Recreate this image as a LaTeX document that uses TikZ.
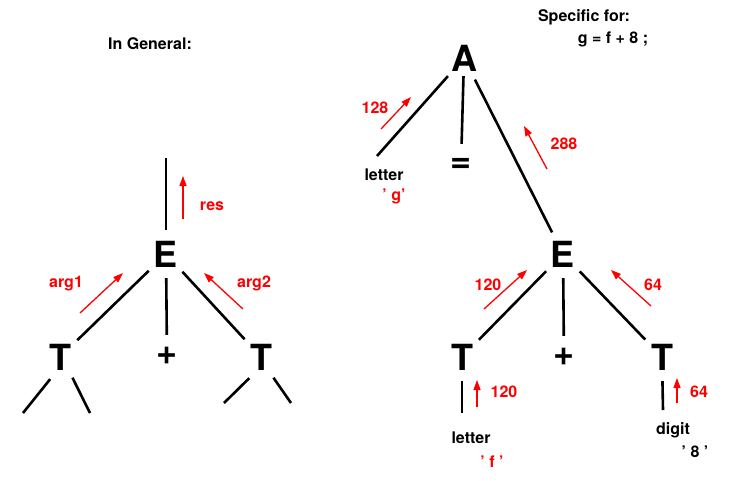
\documentclass[tikz,border=0pt]{standalone}
\usepackage{fontspec}
\setmainfont{TeX Gyre Heros}
\usepackage{tikz}
\usetikzlibrary{arrows.meta}

\tikzset{
	sym/.style={circle, inner sep=0pt, minimum size=48pt, font=\fontsize{36}{36}\selectfont\bfseries},
	op/.style={sym, minimum size=42pt},
	lbl/.style={anchor=base, inner sep=0pt, font=\fontsize{16}{18}\selectfont\bfseries},
	val/.style={lbl, text=red},
	branch/.style={line width=2.6pt},
	flow/.style={red, line width=1.3pt, -{Triangle[length=10pt,width=7pt]}},
}

\begin{document}
\begin{tikzpicture}[x=1pt, y=-1pt]
	\useasboundingbox (0,0) rectangle (734,480);
	% general case
	\node[lbl] (gen) at (150,49) {In General:};
	\node[sym] (E) at (166,254) {E};
	\node[sym] (Tl) at (60,357) {T};
	\node[op] (pl) at (167,356) {+};
	\node[sym] (Tr) at (261,357) {T};
	\coordinate (up) at (166,158);
	\coordinate (Tl1) at (23,413);
	\coordinate (Tl2) at (90,413);
	\coordinate (Tr1) at (224,403);
	\coordinate (Tr2) at (291,403);
	\draw[branch] (E) -- (up);
	\draw[branch] (E) -- (Tl);
	\draw[branch] (E) -- (pl);
	\draw[branch] (E) -- (Tr);
	\draw[branch] (Tl.-114) -- (Tl1);
	\draw[branch] (Tl.-59) -- (Tl2);
	\draw[branch] (Tr.-119) -- (Tr1);
	\draw[branch] (Tr.-59) -- (Tr2);
	\coordinate (res0) at (183,219);
	\coordinate (res1) at (183,176);
	\coordinate (argA0) at (80,313);
	\coordinate (argA1) at (123,273);
	\coordinate (argB0) at (243,309);
	\coordinate (argB1) at (204,273);
	\draw[flow] (res0) -- (res1);
	\draw[flow] (argA0) -- (argA1);
	\draw[flow] (argB0) -- (argB1);
	\node[val] (res) at (212,210) {res};
	\node[val] (argA) at (66,287) {arg1};
	\node[val] (argB) at (254,287) {arg2};
	% specific case
	\node[lbl] (spec) at (584,21) {Specific for:};
	\node[lbl] (stmt) at (613,43) {g = f + 8 ;};
	\node[sym] (A) at (464,58) {A};
	\node[op] (eq) at (461,165) {=};
	\node[sym] (E2) at (563,254) {E};
	\node[sym] (Tf) at (462,357) {T};
	\node[op] (pl2) at (564,357) {+};
	\node[sym] (T8) at (662,357) {T};
	\coordinate (lgtop) at (377,156);
	\coordinate (fbot) at (462,413);
	\coordinate (dbot) at (663,410);
	\draw[branch] (A) -- (lgtop);
	\draw[branch, shorten <=-6pt] (A) -- (eq);
	\draw[branch] (A) -- (E2);
	\draw[branch] (E2) -- (Tf);
	\draw[branch] (E2) -- (pl2);
	\draw[branch] (E2) -- (T8);
	\draw[branch] (Tf) -- (fbot);
	\draw[branch] (T8) -- (dbot);
	\node[lbl] (lg) at (384,180) {letter};
	\node[val] (g) at (394,200) {' g'};
	\node[lbl] (lf) at (471,443) {letter};
	\node[val] (f) at (492,467) {' f '};
	\node[lbl] (dg) at (673,434) {digit};
	\node[lbl] (eight) at (695,457) {' 8 '};
	\coordinate (vA0) at (381,129);
	\coordinate (vA1) at (411,97);
	\coordinate (vE0) at (547,169);
	\coordinate (vE1) at (524,126);
	\coordinate (vf0) at (484,309);
	\coordinate (vf1) at (527,270);
	\coordinate (v80) at (651,306);
	\coordinate (v81) at (611,270);
	\coordinate (wf0) at (477,407);
	\coordinate (wf1) at (477,380);
	\coordinate (w80) at (677,403);
	\coordinate (w81) at (677,378);
	\draw[flow] (vA0) -- (vA1);
	\draw[flow] (vE0) -- (vE1);
	\draw[flow] (vf0) -- (vf1);
	\draw[flow] (v80) -- (v81);
	\draw[flow] (wf0) -- (wf1);
	\draw[flow] (w80) -- (w81);
	\node[val] (nA) at (375,113) {128};
	\node[val] (nE) at (564,149) {288};
	\node[val] (nf) at (488,290) {120};
	\node[val] (n8) at (653,290) {64};
	\node[val] (mf) at (504,397) {120};
	\node[val] (m8) at (699,397) {64};
\end{tikzpicture}
\end{document}
